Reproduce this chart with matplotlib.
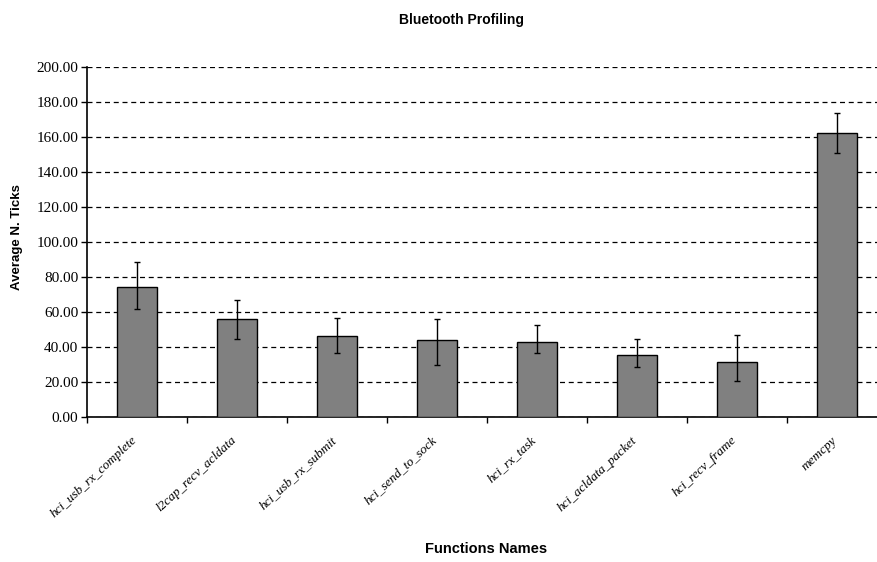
import matplotlib
matplotlib.use("Agg")
import matplotlib.pyplot as plt
import matplotlib.transforms as mtransforms
import numpy as np

functions = ["hci_usb_rx_complete", "l2cap_recv_acldata", "hci_usb_rx_submit",
             "hci_send_to_sock", "hci_rx_task", "hci_acldata_packet",
             "hci_recv_frame", "memcpy"]
avg_ticks = [74.3, 56.0, 46.5, 44.0, 43.0, 35.8, 31.8, 162.3]
err_low = [62.0, 45.0, 37.0, 30.0, 37.0, 29.0, 21.0, 151.0]
err_high = [89.0, 67.0, 57.0, 56.0, 53.0, 45.0, 47.0, 174.0]
y_ticks = [0, 20, 40, 60, 80, 100, 120, 140, 160, 180, 200]

fig = plt.figure(figsize=(8.78, 5.62), dpi=100)
ax = fig.add_axes([0.0987, 0.2575, 0.9112, 0.6227])

x = np.arange(len(functions))
vals = np.array(avg_ticks)
yerr = np.vstack([vals - np.array(err_low), np.array(err_high) - vals])

ax.bar(x, vals, width=0.4, color="#808080", edgecolor="black", linewidth=1.0, zorder=3)
ax.errorbar(x, vals, yerr=yerr, fmt="none", ecolor="black", elinewidth=1.0,
            capsize=2.3, capthick=1.0, zorder=4)

ax.set_xlim(-0.5, len(functions) - 0.5)
ax.set_ylim(0, 200)
ax.set_yticks(y_ticks)
ax.set_yticklabels([f"{v:.2f}" for v in y_ticks], family="Liberation Serif", fontsize=11)

ax.yaxis.grid(True, linestyle=(0, (4, 3)), color="black", linewidth=0.9, zorder=0)
ax.set_axisbelow(True)

# category boundaries carry the x tick marks; names sit at bar centres
ax.set_xticks(np.arange(len(functions) + 1) - 0.5)
ax.set_xticklabels([])
ax.set_xticks(x, minor=True)
ax.set_xticklabels(functions, minor=True, rotation=43, ha="right", va="top",
                   rotation_mode="anchor", family="Liberation Serif", style="italic",
                   fontsize=9.5)
ax.tick_params(axis="x", which="major", direction="out", length=4, width=1)
ax.tick_params(axis="x", which="minor", length=0, pad=8)
ax.tick_params(axis="y", direction="out", length=4, width=1, pad=2)

shift = mtransforms.ScaledTranslation(-6 / 100, -6 / 100, fig.dpi_scale_trans)
for lbl in ax.get_xticklabels(minor=True):
    lbl.set_transform(lbl.get_transform() + shift)

for side in ("top", "right"):
    ax.spines[side].set_visible(False)
for side in ("left", "bottom"):
    ax.spines[side].set_linewidth(1.2)

fig.text(462 / 878, 1 - 20 / 562, "Bluetooth Profiling", family="Liberation Sans",
         fontweight="bold", fontsize=10, ha="center", va="center")
fig.text(17.5 / 878, 1 - 237 / 562, "Average N. Ticks", family="Liberation Sans",
         fontweight="bold", fontsize=9.5, rotation=90, ha="center", va="center")
fig.text(486 / 878, 1 - 549 / 562, "Functions Names", family="Liberation Sans",
         fontweight="bold", fontsize=10.5, ha="center", va="center")

fig.savefig("out.png", dpi=100)
